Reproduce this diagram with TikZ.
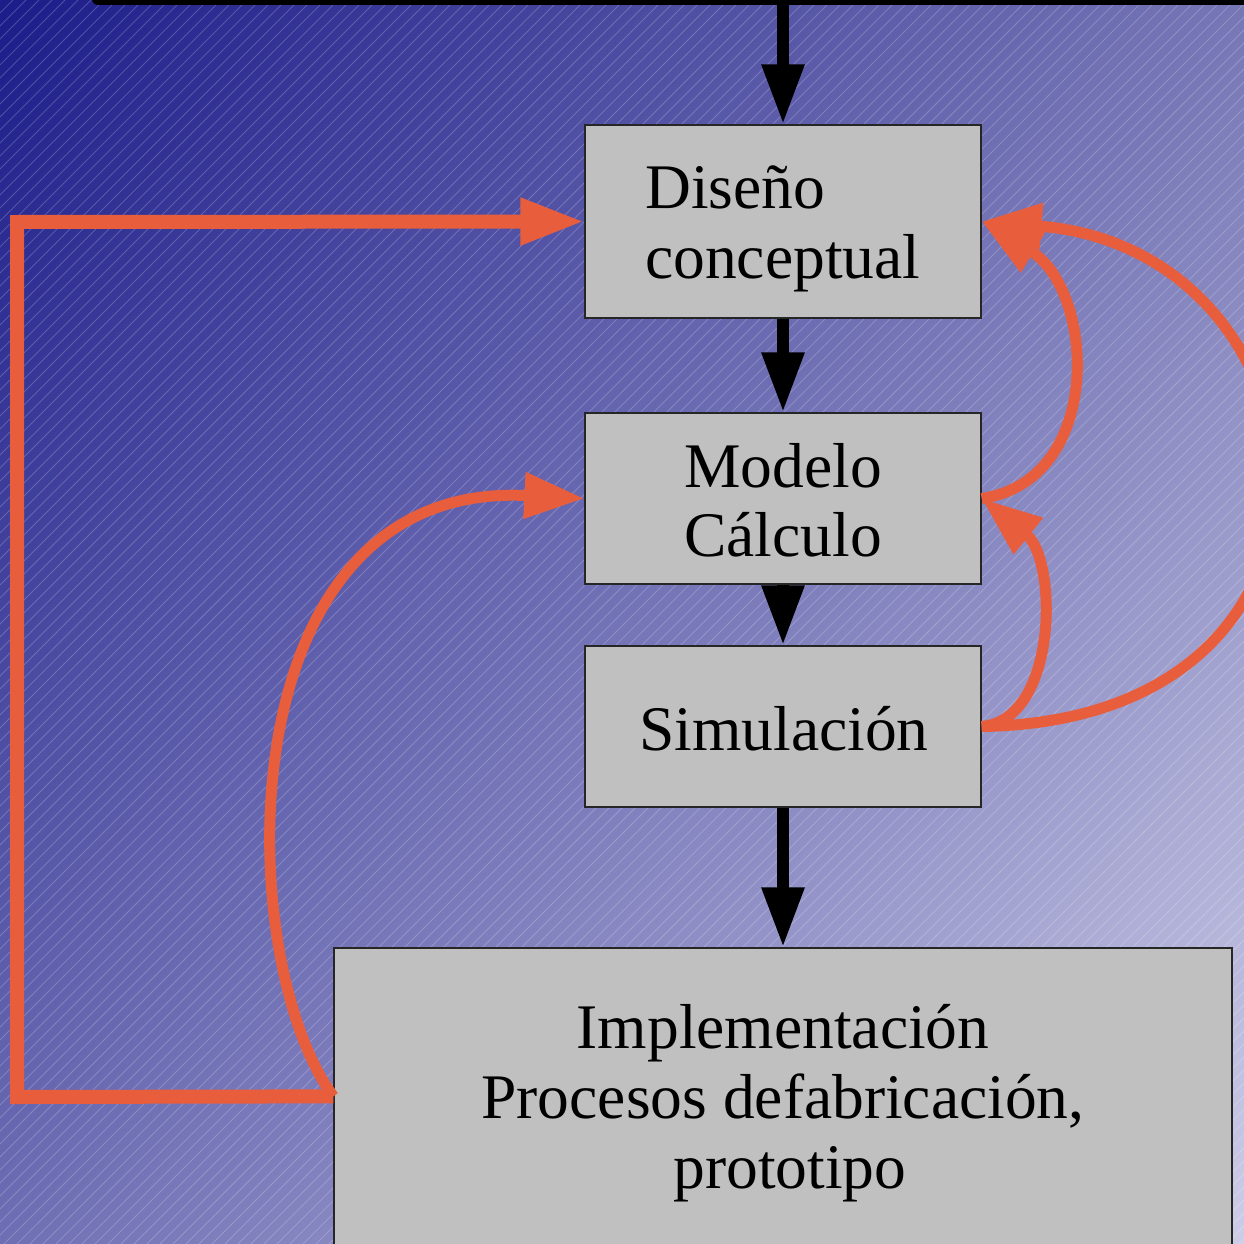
\documentclass[tikz,border=0pt]{standalone}
\usepackage{fontspec}
\setmainfont{Liberation Serif}
\usetikzlibrary{arrows.meta,calc,shadings}
\definecolor{orng}{RGB}{232,94,60}
\definecolor{boxgray}{RGB}{192,192,192}
\definecolor{bgUL}{RGB}{28,28,138}
\definecolor{bgUR}{RGB}{118,118,182}
\definecolor{bgLL}{RGB}{110,110,180}
\definecolor{bgLR}{RGB}{205,205,232}
\tikzset{
  box/.style={draw=black!85, line width=1.3pt, fill=boxgray, inner sep=0pt},
  txt/.style={inner sep=0pt, font=\fontsize{63.5}{70}\selectfont},
  blk/.style={line width=12pt, black, -{Triangle[length=60pt,width=40pt]}},
  fb/.style={line width=11pt, orng, -{Triangle[length=60pt,width=44pt]}},
  fbthick/.style={line width=14pt, orng, line join=miter, -{Triangle[length=64pt,width=44pt]}},
  hatch/.style={white, opacity=0.2, line width=0.8pt}
}
\begin{document}
\begin{tikzpicture}[x=1pt,y=-1pt]
\useasboundingbox (0,0) rectangle (1244,1244);
\clip (0,0) rectangle (1244,1244);
\shade[upper left=bgUL, upper right=bgUR, lower left=bgLL, lower right=bgLR] (0,0) rectangle (1244,1244);
\foreach \c in {0,13,...,2500} {\draw[hatch] (\c,0) -- (\c-1250,1250);}
% top bar
\coordinate (barL) at (98,-1);
\coordinate (barR) at (1260,-1);
\draw[line width=12pt, line cap=round] (barL) -- (barR);
\coordinate (topc) at (783,0);
% boxes
\node[box, minimum width=396pt, minimum height=193pt] (dis) at (783,221.5) {};
\node[box, minimum width=396pt, minimum height=171pt] (mod) at (783,498.5) {};
\node[box, minimum width=396pt, minimum height=161pt] (sim) at (783,726.5) {};
\node[box, minimum width=898pt, minimum height=320pt] (imp) at (783,1108) {};
% texts
\node[txt, anchor=base west] (t1) at (645,208) {Diseño};
\node[txt, anchor=base west] (t2) at (645,278) {conceptual};
\node[txt, anchor=base] (t3) at (783,487) {Modelo};
\node[txt, anchor=base] (t4) at (783,556) {Cálculo};
\node[txt, anchor=base] (t5) at (784,750) {Simulación};
\node[txt, anchor=base] (t6) at (783,1048) {Implementación};
\node[txt, anchor=base] (t7) at (783,1118) {Procesos defabricación,};
\node[txt, anchor=base] (t8) at (790,1188) {prototipo};
% black arrows
\draw[blk] (topc) -- (dis.north);
\draw[blk] (dis.south) -- (mod.north);
\draw[blk] (mod.south) -- (sim.north);
\draw[blk] (sim.south) -- (imp.north);
% orange feedback
\coordinate (cBL) at (17,1097);
\coordinate (cTL) at (17,222);
\draw[fbthick] ([yshift=-149pt]imp.north west) -- (cBL) -- (cTL) -- (dis.west);
\draw[fb] ([yshift=-149pt]imp.north west) .. controls (232,960) and (222,480) .. (mod.west);
\draw[fb] (mod.east) .. controls (1105,480) and (1095,290) .. (dis.east);
\draw[fb] (sim.east) .. controls (1058,720) and (1058,560) .. (mod.east);
\draw[fb] (sim.east) .. controls (1390,720) and (1340,250) .. (dis.east);
\end{tikzpicture}
\end{document}
